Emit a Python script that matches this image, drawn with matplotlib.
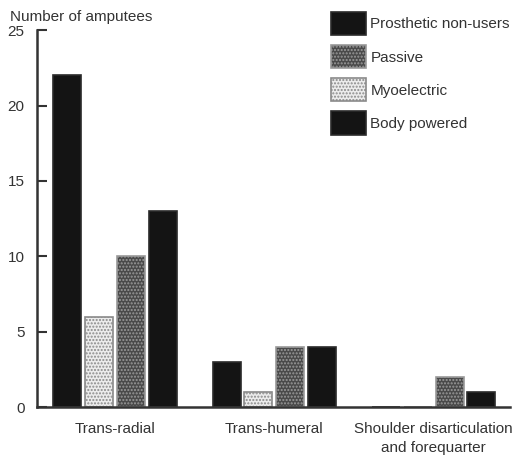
import numpy as np
import matplotlib.pyplot as plt
from matplotlib.patches import Patch

plt.rcParams['font.family'] = ['Liberation Sans', 'DejaVu Sans']

categories = ['Trans-radial', 'Trans-humeral', 'Shoulder disarticulation\nand forequarter']
non_users = [22, 3, 0]
myoelectric = [6, 1, 0]
passive = [10, 4, 2]
body_powered = [13, 4, 1]

fig = plt.figure(figsize=(5.21, 4.57), dpi=100)
ax = fig.add_axes([0.071, 0.109, 0.908, 0.825])

x = np.arange(len(categories))
w = 0.176
step = 0.2

styles = {
    'non': dict(facecolor='#141414', edgecolor='#2a2a2a', linewidth=1.2),
    'myo': dict(facecolor='#ececec', edgecolor='#8a8a8a', hatch='.....', linewidth=1.2),
    'pas': dict(facecolor='#4a4a4a', edgecolor='#9a9a9a', hatch='.....', linewidth=1.2),
    'body': dict(facecolor='#141414', edgecolor='#2a2a2a', linewidth=1.2),
}

ax.bar(x - 1.5 * step, non_users, w, **styles['non'])
ax.bar(x - 0.5 * step, myoelectric, w, **styles['myo'])
ax.bar(x + 0.5 * step, passive, w, **styles['pas'])
ax.bar(x + 1.5 * step, body_powered, w, **styles['body'])

ax.set_xlim(-0.49, 2.48)
ax.set_ylim(0, 25)
ax.set_yticks([0, 5, 10, 15, 20, 25])
ax.set_xticks(x)
ax.set_xticklabels(categories, fontsize=11, color='#333333', linespacing=1.45, va='top')

for s in ['top', 'right']:
    ax.spines[s].set_visible(False)
ax.spines['left'].set_color('#333333')
ax.spines['bottom'].set_color('#333333')
ax.spines['left'].set_linewidth(1.8)
ax.spines['bottom'].set_linewidth(1.8)
ax.tick_params(axis='y', direction='in', length=7, width=1.5, colors='#333333',
               labelsize=11, pad=9)
ax.tick_params(axis='x', length=0, pad=11)

fig.text(0.019, 0.963, 'Number of amputees', fontsize=11, color='#333333',
         ha='left', va='center')

handles = [
    Patch(**styles['non']),
    Patch(**styles['pas']),
    Patch(**styles['myo']),
    Patch(**styles['body']),
]
labels = ['Prosthetic non-users', 'Passive', 'Myoelectric', 'Body powered']
fig.legend(handles, labels, loc='upper left', bbox_to_anchor=(0.6085, 1.004),
           frameon=False, fontsize=11, handlelength=2.33, handleheight=1.96,
           labelspacing=0.65, handletextpad=0.26, labelcolor='#333333')

fig.savefig('out.png', dpi=100)
